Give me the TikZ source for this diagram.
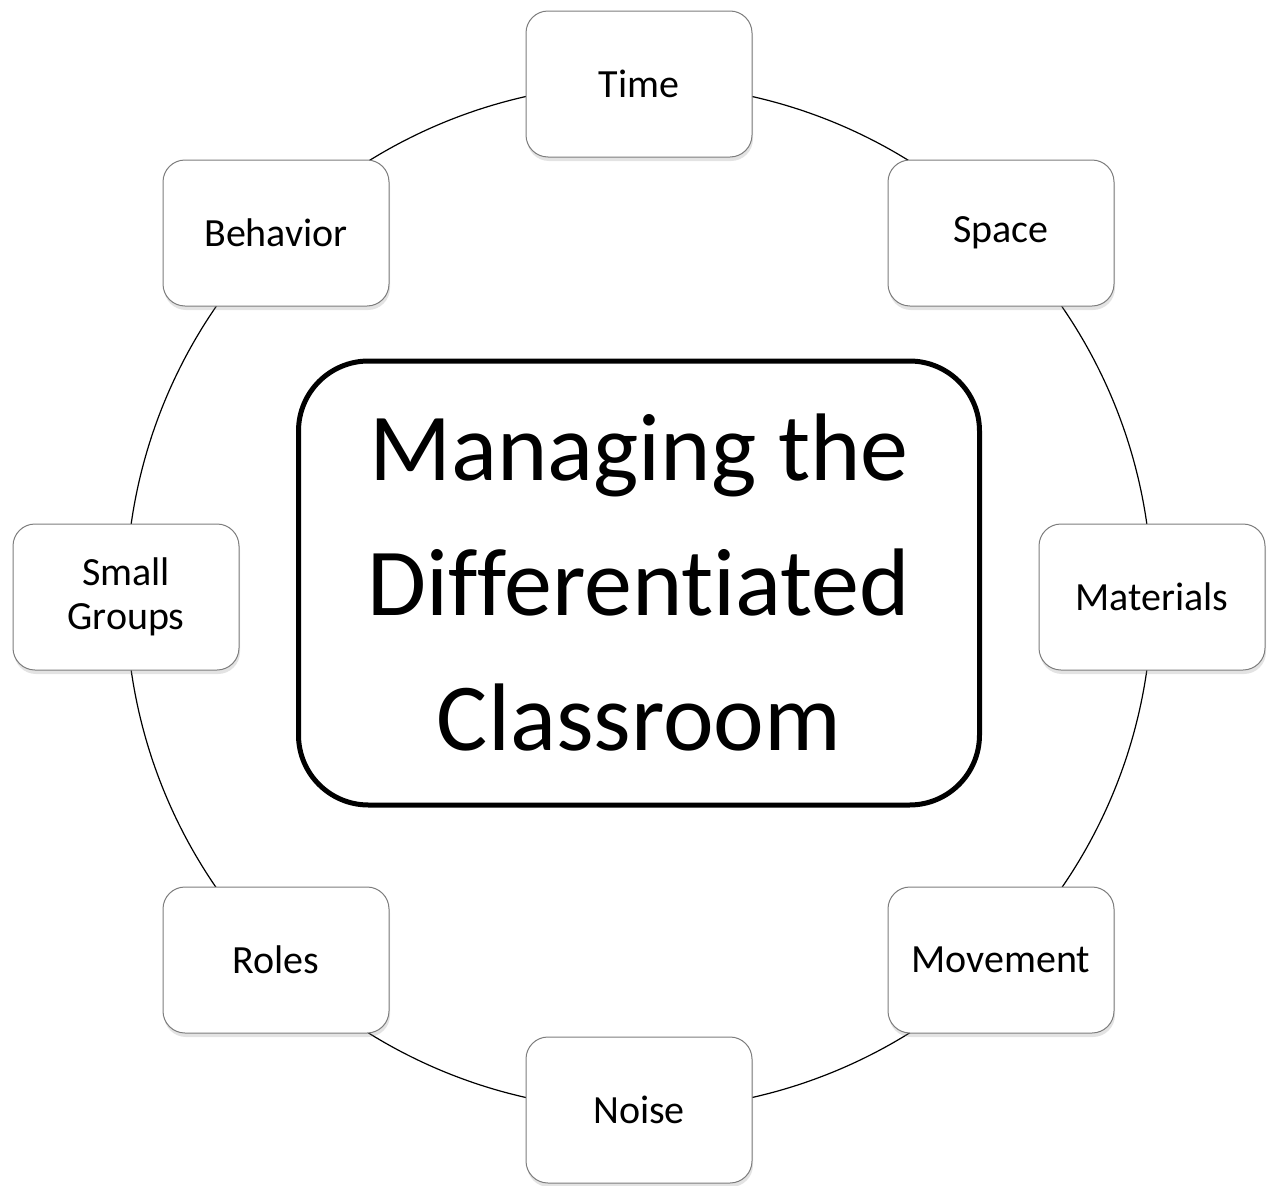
\documentclass[tikz,border=0pt]{standalone}
\usepackage{fontspec}
\setmainfont{Carlito}[Ligatures={NoCommon}]
\usetikzlibrary{shadows}
\definecolor{boxgray}{RGB}{125,125,125}
\begin{document}
\begin{tikzpicture}[x=1pt,y=-1pt,
  item/.style={draw=boxgray, line width=1pt, fill=white, rounded corners=22pt,
    minimum width=226pt, minimum height=146pt, align=center, inner sep=0pt,
    font=\fontsize{40}{44}\selectfont,
    drop shadow={opacity=0.22, shadow xshift=1pt, shadow yshift=-4pt}},
  core/.style={draw=black, line width=5pt, fill=white, rounded corners=70pt,
    minimum width=681pt, minimum height=444pt, align=center, inner sep=0pt,
    font=\fontsize{96}{135}\selectfont},
  ring/.style={draw=black, line width=1.2pt}]
\useasboundingbox (0,0) rectangle (1270,1186);
\coordinate (c) at (639,597);
\draw[ring] (c) circle[radius=513];
\node[item] (time) at (639,84) {Time};
\node[item] (space) at (1001,233) {Space};
\node[item] (materials) at (1152,597) {Materials};
\node[item] (movement) at (1001,960) {Movement};
\node[item] (noise) at (639,1110) {Noise};
\node[item] (roles) at (276,960) {Roles};
\node[item] (small) at (126,597) {Small\\Groups};
\node[item] (behavior) at (276,233) {Behavior};
\node[core] (main) at (639,583) {Managing the\\Differentiated\\Classroom};
\end{tikzpicture}
\end{document}
